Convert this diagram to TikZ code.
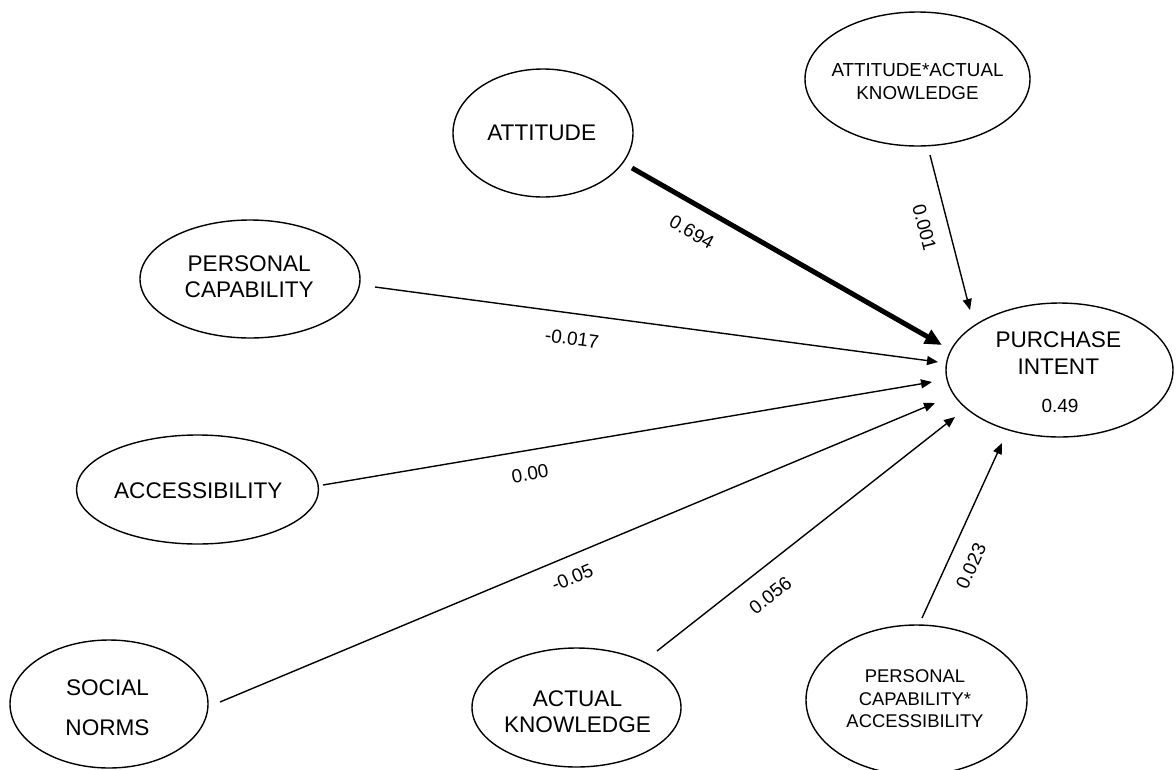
\documentclass[tikz,border=0pt]{standalone}
\usepackage{fontspec}
\setmainfont{Liberation Sans}
\usetikzlibrary{shapes.geometric,arrows.meta,calc}

\tikzset{
  ell/.style={draw, ellipse, line width=1.4pt, inner sep=0pt},
  bigtxt/.style={align=center, inner sep=0pt},
  smalltxt/.style={align=center, inner sep=0pt},
  conn/.style={line width=1.4pt, -{Triangle[length=11pt,width=9pt]}},
  heavy/.style={line width=5pt, -{Triangle[length=17pt,width=15pt]}},
  coef/.style={sloped, anchor=north, inner xsep=0pt,
               font=\fontsize{19}{22}\selectfont}
}

\begin{document}
\begin{tikzpicture}[x=1pt,y=-1pt]
  \fill[white] (0,0) rectangle (1176,769);
  \useasboundingbox (0,0) rectangle (1176,769);

  % latent constructs
  \node[ell, minimum width=180pt, minimum height=128pt] (att) at (543,133) {};
  \node[ell, minimum width=220pt, minimum height=118pt] (pc) at (250,279) {};
  \node[ell, minimum width=242pt, minimum height=109pt] (acc) at (197.5,489.5) {};
  \node[ell, minimum width=198pt, minimum height=128pt] (sn) at (109,704) {};
  \node[ell, minimum width=209pt, minimum height=119pt] (ak) at (576.5,707.5) {};
  \node[ell, minimum width=221pt, minimum height=150pt] (pca) at (916.5,700) {};
  \node[ell, minimum width=225pt, minimum height=134pt] (aak) at (917.5,79) {};
  \node[ell, minimum width=227pt, minimum height=134pt] (pi) at (1059.5,370) {};

  % construct names
  \node[bigtxt, font=\fontsize{22.6}{26}\selectfont] (att-t) at (541.7,133.3) {ATTITUDE};
  \node[bigtxt, font=\fontsize{22.6}{25.7}\selectfont] (pc-t) at (249.2,277) {PERSONAL\\CAPABILITY};
  \node[bigtxt, font=\fontsize{22.6}{26}\selectfont] (acc-t) at (198.3,490.8) {ACCESSIBILITY};
  \node[bigtxt, font=\fontsize{22.6}{40}\selectfont] (sn-t) at (107.5,707.5) {SOCIAL\\NORMS};
  \node[bigtxt, font=\fontsize{22.6}{26.7}\selectfont] (ak-t) at (577.5,711.7) {ACTUAL\\KNOWLEDGE};
  \node[smalltxt, font=\fontsize{18.8}{23}\selectfont] (aak-t) at (917.5,81.2) {ATTITUDE*ACTUAL\\KNOWLEDGE};
  \node[smalltxt, font=\fontsize{18.4}{22.2}\selectfont] (pca-t) at (915,698.8) {PERSONAL\\CAPABILITY*\\ACCESSIBILITY};
  \node[bigtxt, font=\fontsize{22.6}{26.7}\selectfont] (pi-t) at (1058.3,353.3) {PURCHASE\\INTENT};
  \node[smalltxt, font=\fontsize{19}{22}\selectfont] (pi-r) at (1060,405.5) {0.49};

  % structural paths with coefficients
  \draw[heavy] ($(att)+(89,35)$) -- ($(pi)+(-117.5,-25)$)
    node[coef, pos=0.2345, inner ysep=16.7pt] (c-att) {0.694};
  \draw[conn] ($(pc)+(125,8)$) -- ($(pi)+(-121.5,-8)$)
    node[coef, pos=0.3556, inner ysep=17.6pt] (c-pc) {-0.017};
  \draw[conn] ($(acc)+(125.5,-4.5)$) -- ($(pi)+(-127.5,12)$)
    node[coef, pos=0.3337, inner ysep=15.8pt] (c-acc) {0.00};
  \draw[conn] ($(sn)+(111,-2)$) -- ($(pi)+(-124.5,33)$)
    node[coef, pos=0.4813, inner ysep=13.6pt] (c-sn) {-0.05};
  \draw[conn] ($(ak)+(80.5,-56.5)$) -- ($(pi)+(-104.5,47)$)
    node[coef, pos=0.326, inner ysep=18.8pt] (c-ak) {0.056};
  \draw[conn] ($(pca)+(5.5,-82)$) -- ($(pi)+(-57.5,73)$)
    node[coef, pos=0.351, inner ysep=15.6pt] (c-pca) {0.023};
  \draw[conn] ($(aak)+(12.5,76)$) -- ($(pi)+(-89.5,-60)$)
    node[coef, pos=0.43, inner ysep=16.1pt] (c-aak) {0.001};
\end{tikzpicture}
\end{document}
